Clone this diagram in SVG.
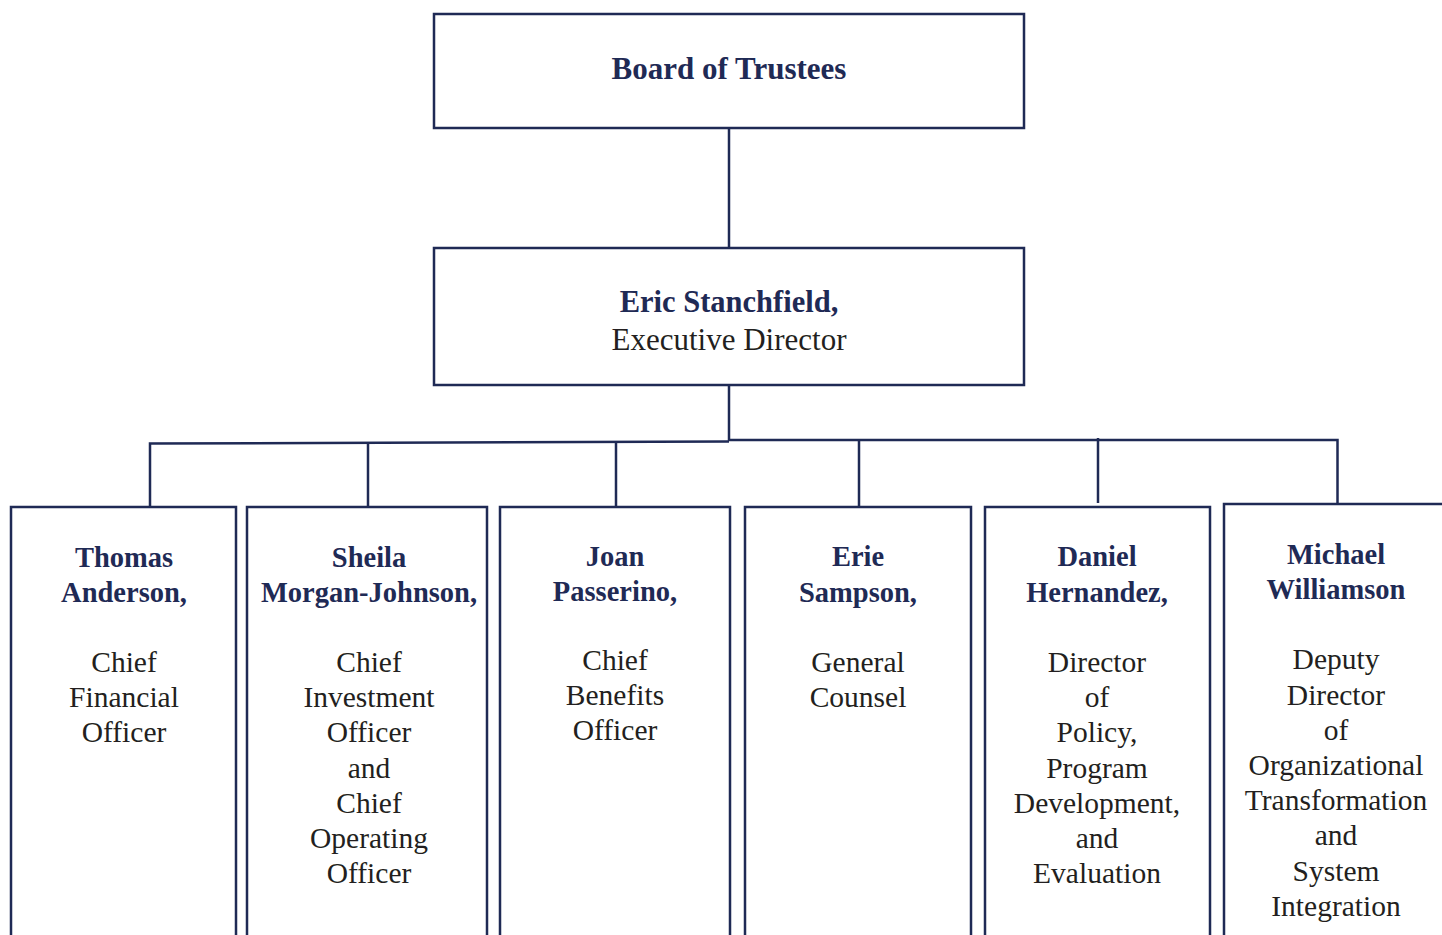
<svg xmlns="http://www.w3.org/2000/svg" width="1442" height="935" viewBox="0 0 1442 935">
<style>
.box{fill:#fff;stroke:#1f2a55;stroke-width:2.5}
.con{fill:none;stroke:#1f2a55;stroke-width:2.5}
.nm{font-family:"Liberation Serif","DejaVu Serif",serif;font-weight:bold;fill:#1f2a55;text-anchor:middle}
.tt{font-family:"Liberation Serif","DejaVu Serif",serif;fill:#231f20;text-anchor:middle}
.n3{font-size:28.5px}
.t3{font-size:29.5px}
</style>
<rect width="1442" height="935" fill="#fff"/>
<g id="connectors">
<path class="con" d="M729 128V248"/>
<path class="con" d="M729 385V441"/>
<path class="con" d="M150 507V443.5L729 441.5"/>
<path class="con" d="M729 440H1337.5V505"/>
<path class="con" d="M368 443V507"/>
<path class="con" d="M616 442V507"/>
<path class="con" d="M859 440V506"/>
<path class="con" d="M1098 438V503"/>
</g>
<g id="board">
<rect class="box" x="434" y="14" width="590" height="114"/>
<text class="nm" x="729" y="79" font-size="31">Board of Trustees</text>
</g>
<g id="executive">
<rect class="box" x="434" y="248" width="590" height="137"/>
<text class="nm" x="729" y="312" font-size="30.5">Eric Stanchfield,</text>
<text class="tt" x="729" y="350" font-size="31">Executive Director</text>
</g>
<g id="anderson">
<rect class="box" x="11" y="507" width="225" height="450"/>
<text class="nm n3" x="124" y="567">Thomas</text>
<text class="nm n3" x="124" y="602">Anderson,</text>
<text class="tt t3" x="124" y="672">Chief</text>
<text class="tt t3" x="124" y="707">Financial</text>
<text class="tt t3" x="124" y="742">Officer</text>
</g>
<g id="morgan-johnson">
<rect class="box" x="247" y="507" width="240" height="450"/>
<text class="nm n3" x="369" y="567">Sheila</text>
<text class="nm n3" x="369" y="602">Morgan-Johnson,</text>
<text class="tt t3" x="369" y="672">Chief</text>
<text class="tt t3" x="369" y="707">Investment</text>
<text class="tt t3" x="369" y="742">Officer</text>
<text class="tt t3" x="369" y="778">and</text>
<text class="tt t3" x="369" y="813">Chief</text>
<text class="tt t3" x="369" y="848">Operating</text>
<text class="tt t3" x="369" y="883">Officer</text>
</g>
<g id="passerino">
<rect class="box" x="500" y="507" width="230" height="450"/>
<text class="nm n3" x="615" y="566">Joan</text>
<text class="nm n3" x="615" y="601">Passerino,</text>
<text class="tt t3" x="615" y="670">Chief</text>
<text class="tt t3" x="615" y="705">Benefits</text>
<text class="tt t3" x="615" y="740">Officer</text>
</g>
<g id="sampson">
<rect class="box" x="745" y="507" width="226" height="450"/>
<text class="nm n3" x="858" y="566">Erie</text>
<text class="nm n3" x="858" y="602">Sampson,</text>
<text class="tt t3" x="858" y="672">General</text>
<text class="tt t3" x="858" y="707">Counsel</text>
</g>
<g id="hernandez">
<rect class="box" x="985" y="507" width="225" height="450"/>
<text class="nm n3" x="1097" y="566">Daniel</text>
<text class="nm n3" x="1097" y="602">Hernandez,</text>
<text class="tt t3" x="1097" y="672">Director</text>
<text class="tt t3" x="1097" y="707">of</text>
<text class="tt t3" x="1097" y="742">Policy,</text>
<text class="tt t3" x="1097" y="778">Program</text>
<text class="tt t3" x="1097" y="813">Development,</text>
<text class="tt t3" x="1097" y="848">and</text>
<text class="tt t3" x="1097" y="883">Evaluation</text>
</g>
<g id="williamson">
<rect class="box" x="1224" y="504" width="240" height="450"/>
<text class="nm n3" x="1336" y="564">Michael</text>
<text class="nm n3" x="1336" y="599">Williamson</text>
<text class="tt t3" x="1336" y="669">Deputy</text>
<text class="tt t3" x="1336" y="705">Director</text>
<text class="tt t3" x="1336" y="740">of</text>
<text class="tt t3" x="1336" y="775">Organizational</text>
<text class="tt t3" x="1336" y="810">Transformation</text>
<text class="tt t3" x="1336" y="845">and</text>
<text class="tt t3" x="1336" y="881">System</text>
<text class="tt t3" x="1336" y="916">Integration</text>
</g>
</svg>
